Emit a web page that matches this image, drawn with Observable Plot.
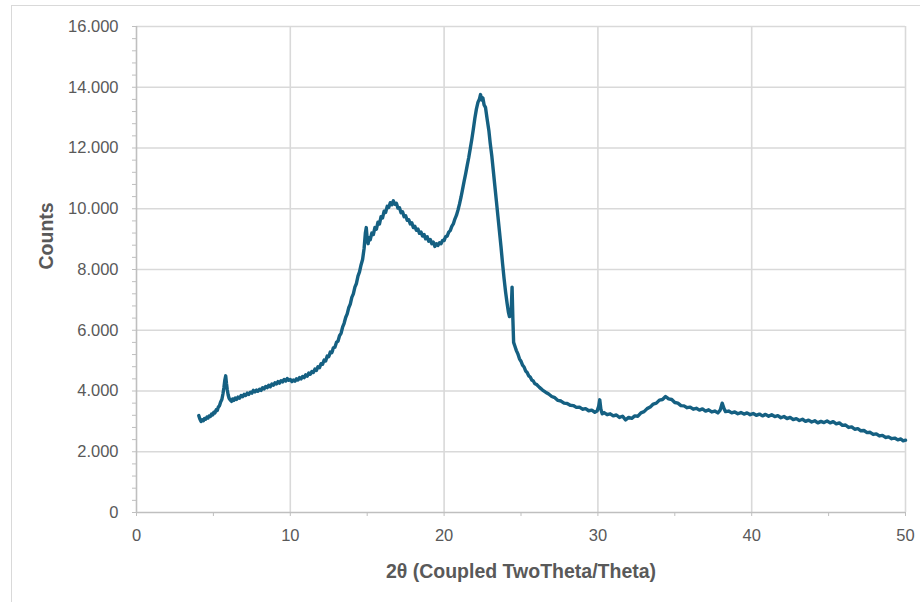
<!DOCTYPE html>
<html>
<head>
<meta charset="utf-8">
<script src="https://cdn.jsdelivr.net/npm/d3@7"></script>
<script src="https://cdn.jsdelivr.net/npm/@observablehq/plot@0.6"></script>
<style>
  html, body { margin: 0; padding: 0; background: #fff; }
  #wrap { position: relative; width: 920px; height: 602px; overflow: hidden; }
  #frame { position: absolute; left: 11px; top: 5px; width: 1000px; height: 700px; border: 1.5px solid #d9d9d9; }
  #chart { position: absolute; left: 0; top: 0; }
</style>
</head>
<body>
<div id="wrap"><div id="frame"></div><div id="chart"></div></div>
<script>
const twoTheta = [
  4.05, 4.12, 4.2, 4.27, 4.35, 4.42, 4.5, 4.58, 4.65, 4.72,
  4.8, 4.88, 4.95, 5.03, 5.1, 5.18, 5.25, 5.32, 5.4, 5.47,
  5.55, 5.62, 5.68, 5.74, 5.8, 5.85, 5.9, 5.96, 6.02, 6.1,
  6.18, 6.25, 6.33, 6.42, 6.5, 6.6, 6.7, 6.8, 6.9, 7.0,
  7.1, 7.2, 7.3, 7.4, 7.5, 7.6, 7.7, 7.8, 7.9, 8.0,
  8.1, 8.2, 8.3, 8.4, 8.5, 8.6, 8.7, 8.8, 8.9, 9.0,
  9.1, 9.2, 9.3, 9.4, 9.5, 9.6, 9.7, 9.8, 9.9, 10.0,
  10.1, 10.2, 10.3, 10.4, 10.5, 10.6, 10.7, 10.8, 10.9, 11.0,
  11.1, 11.2, 11.3, 11.4, 11.5, 11.6, 11.7, 11.8, 11.9, 12.0,
  12.1, 12.2, 12.3, 12.4, 12.5, 12.6, 12.7, 12.8, 12.9, 13.0,
  13.1, 13.2, 13.3, 13.4, 13.5, 13.6, 13.7, 13.8, 13.9, 14.0,
  14.1, 14.2, 14.3, 14.4, 14.5, 14.6, 14.7, 14.8, 14.88, 14.94,
  15.0, 15.06, 15.12, 15.2, 15.3, 15.4, 15.5, 15.6, 15.7, 15.8,
  15.9, 16.0, 16.1, 16.2, 16.3, 16.4, 16.5, 16.6, 16.7, 16.8,
  16.9, 17.0, 17.1, 17.2, 17.3, 17.4, 17.5, 17.6, 17.7, 17.8,
  17.9, 18.0, 18.1, 18.2, 18.3, 18.4, 18.5, 18.6, 18.7, 18.8,
  18.9, 19.0, 19.1, 19.2, 19.3, 19.4, 19.5, 19.6, 19.7, 19.8,
  19.9, 20.0, 20.1, 20.2, 20.3, 20.4, 20.5, 20.6, 20.7, 20.8,
  20.9, 21.0, 21.1, 21.2, 21.3, 21.4, 21.5, 21.6, 21.7, 21.8,
  21.9, 22.0, 22.1, 22.2, 22.3, 22.37, 22.44, 22.52, 22.6, 22.69,
  22.8, 22.91, 23.0, 23.1, 23.2, 23.3, 23.4, 23.5, 23.6, 23.7,
  23.8, 23.9, 24.0, 24.1, 24.18, 24.25, 24.32, 24.36, 24.42, 24.47,
  24.52, 24.6, 24.7, 24.8, 24.9, 25.0, 25.1, 25.2, 25.3, 25.4,
  25.5, 25.6, 25.7, 25.8, 25.9, 26.0, 26.2, 26.4, 26.6, 26.8,
  27.0, 27.2, 27.4, 27.6, 27.8, 28.0, 28.2, 28.4, 28.6, 28.8,
  29.0, 29.2, 29.4, 29.6, 29.8, 29.95, 30.05, 30.12, 30.2, 30.28,
  30.4, 30.6, 30.8, 31.0, 31.2, 31.4, 31.6, 31.8, 32.0, 32.2,
  32.4, 32.6, 32.8, 33.0, 33.2, 33.4, 33.6, 33.8, 34.0, 34.2,
  34.4, 34.6, 34.8, 35.0, 35.2, 35.4, 35.6, 35.8, 36.0, 36.2,
  36.4, 36.6, 36.8, 37.0, 37.2, 37.4, 37.6, 37.8, 37.95, 38.08,
  38.2, 38.3, 38.5, 38.7, 38.9, 39.1, 39.3, 39.5, 39.7, 39.9,
  40.1, 40.3, 40.5, 40.7, 40.9, 41.1, 41.3, 41.5, 41.7, 41.9,
  42.1, 42.3, 42.5, 42.7, 42.9, 43.1, 43.3, 43.5, 43.7, 43.9,
  44.1, 44.3, 44.5, 44.7, 44.9, 45.1, 45.3, 45.5, 45.7, 45.9,
  46.1, 46.3, 46.5, 46.7, 46.9, 47.1, 47.3, 47.5, 47.7, 47.9,
  48.1, 48.3, 48.5, 48.7, 48.9, 49.1, 49.3, 49.5, 49.7, 49.85,
  50.0
];
const counts = [
  3190, 3080, 3000, 3050, 3020, 3090, 3070, 3140, 3110, 3180,
  3160, 3240, 3210, 3300, 3280, 3380, 3360, 3470, 3520, 3640,
  3720, 3900, 4100, 4350, 4500, 4250, 4050, 3870, 3760, 3700,
  3660, 3740, 3690, 3770, 3720, 3800, 3760, 3850, 3810, 3890,
  3850, 3930, 3890, 3960, 3930, 4020, 3970, 4030, 3990, 4060,
  4020, 4110, 4070, 4150, 4110, 4190, 4140, 4230, 4190, 4270,
  4230, 4310, 4260, 4340, 4300, 4380, 4330, 4410, 4350, 4380,
  4310, 4360, 4320, 4400, 4360, 4440, 4400, 4480, 4440, 4530,
  4490, 4590, 4550, 4640, 4610, 4720, 4680, 4800, 4770, 4900,
  4880, 5020, 4990, 5150, 5130, 5280, 5260, 5420, 5440, 5600,
  5640, 5820, 5900, 6100, 6230, 6420, 6540, 6740, 6860, 7080,
  7200, 7420, 7540, 7780, 7920, 8150, 8330, 8700, 9200, 9380,
  9000, 8850, 9050, 8980, 9200, 9150, 9380, 9330, 9560, 9500,
  9740, 9700, 9920, 9880, 10080, 10040, 10200, 10130, 10260, 10150,
  10180, 10020, 10030, 9870, 9900, 9740, 9770, 9620, 9640, 9500,
  9540, 9380, 9420, 9290, 9330, 9190, 9230, 9100, 9150, 9010,
  9080, 8930, 8990, 8850, 8900, 8760, 8850, 8790, 8880, 8850,
  8960, 8950, 9080, 9100, 9230, 9280, 9420, 9500, 9660, 9780,
  9950, 10150, 10380, 10640, 10900, 11150, 11420, 11680, 11980, 12280,
  12620, 12980, 13280, 13500, 13620, 13760, 13580, 13650, 13420, 13340,
  12950, 12580, 12150, 11750, 11250, 10750, 10250, 9750, 9250, 8750,
  8200, 7700, 7250, 6870, 6600, 6450, 6650, 6600, 7420, 6400,
  5600, 5480, 5330, 5220, 5060, 4980, 4850, 4790, 4660, 4610,
  4500, 4460, 4360, 4330, 4240, 4220, 4120, 4030, 3960, 3900,
  3820, 3780, 3690, 3670, 3600, 3590, 3530, 3520, 3460, 3470,
  3400, 3420, 3350, 3370, 3300, 3340, 3500, 3710, 3380, 3250,
  3290, 3220, 3250, 3180, 3210, 3130, 3170, 3050, 3130, 3100,
  3180, 3170, 3280, 3320, 3420, 3470, 3570, 3600, 3700, 3720,
  3820, 3740, 3720, 3620, 3600, 3520, 3510, 3450, 3470, 3400,
  3430, 3370, 3410, 3340, 3380, 3310, 3340, 3280, 3370, 3600,
  3420, 3320, 3340, 3280, 3310, 3250, 3290, 3240, 3280, 3220,
  3260, 3200, 3240, 3180, 3230, 3170, 3220, 3160, 3190, 3120,
  3160, 3090, 3130, 3060, 3090, 3030, 3070, 3000, 3040, 2980,
  3020, 2950, 3000, 2960, 3010, 2950, 2990, 2920, 2950, 2870,
  2880, 2800, 2820, 2740, 2760, 2690, 2700, 2630, 2640, 2570,
  2590, 2520, 2540, 2470, 2490, 2430, 2450, 2390, 2420, 2360,
  2380
];
const xMajorTicks = [0, 10, 20, 30, 40, 50];
const xMinorTicks = [0, 5, 10, 15, 20, 25, 30, 35, 40, 45, 50];
const yMajorTicks = [0, 2000, 4000, 6000, 8000, 10000, 12000, 14000, 16000];
const yMinorTicks = d3.range(0, 16001, 400);
const xLabel = "2θ (Coupled TwoTheta/Theta)";
const yLabel = "Counts";

const data = twoTheta.map((t, i) => ({t, c: counts[i]}));
const fmt = d => d3.format(",")(d).replace(/,/g, ".");
const font = "'Liberation Sans', Arial, sans-serif";

const chart = Plot.plot({
  width: 920,
  height: 602,
  marginLeft: 136,
  marginRight: 15,
  marginTop: 26,
  marginBottom: 90,
  style: {fontFamily: font, fontSize: "16px", color: "#595959", background: "transparent", overflow: "visible"},
  x: {domain: [0, 50]},
  y: {domain: [0, 16000]},
  marks: [
    Plot.gridX(xMajorTicks.filter(d => d > 0), {stroke: "#d9d9d9", strokeOpacity: 1, strokeWidth: 1.6}),
    Plot.gridY(yMajorTicks.filter(d => d > 0), {stroke: "#d9d9d9", strokeOpacity: 1, strokeWidth: 1.6}),
    Plot.axisY(yMinorTicks, {tickSize: 4, tickFormat: () => "", stroke: "#bfbfbf", label: null}),
    Plot.axisY(yMajorTicks, {tickSize: 0, tickPadding: 18, tickFormat: fmt, label: null, fill: "#595959", fontSize: 16.5}),
    Plot.axisX(xMinorTicks, {tickSize: 4, tickFormat: () => "", stroke: "#bfbfbf", label: null}),
    Plot.axisX(xMajorTicks, {tickSize: 0, tickPadding: 17, tickFormat: d => String(d), label: null, fill: "#595959", fontSize: 16.5}),
    Plot.ruleY([0], {stroke: "#bfbfbf", strokeWidth: 1.6}),
    Plot.ruleX([0], {stroke: "#bfbfbf", strokeWidth: 1.6}),
    Plot.line(data, {x: "t", y: "c", stroke: "#156082", strokeWidth: 3.4, strokeLinejoin: "round"}),
    Plot.text([xLabel], {frameAnchor: "bottom", dy: 59, text: d => d, fontWeight: "bold", fontSize: 19.5, fill: "#595959", lineAnchor: "middle"}),
    Plot.text([yLabel], {frameAnchor: "left", dx: -90, rotate: -90, text: d => d, fontWeight: "bold", fontSize: 19.5, fill: "#595959", lineAnchor: "middle"})
  ]
});
document.getElementById("chart").appendChild(chart);
</script>
</body>
</html>
